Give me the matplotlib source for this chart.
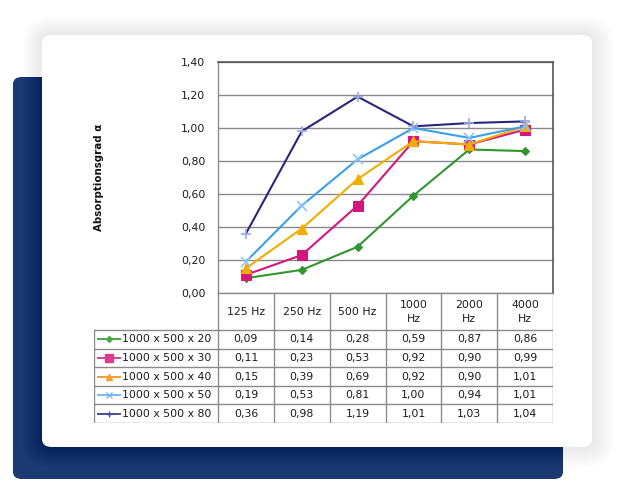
import matplotlib
matplotlib.use("Agg")
import matplotlib.pyplot as plt
from matplotlib.patches import FancyBboxPatch
from matplotlib.lines import Line2D

# ---------------- data ----------------
categories = ["125 Hz", "250 Hz", "500 Hz", "1000\nHz", "2000\nHz", "4000\nHz"]
series_names = ["1000 x 500 x 20", "1000 x 500 x 30", "1000 x 500 x 40",
                "1000 x 500 x 50", "1000 x 500 x 80"]
s20 = [0.09, 0.14, 0.28, 0.59, 0.87, 0.86]
s30 = [0.11, 0.23, 0.53, 0.92, 0.90, 0.99]
s40 = [0.15, 0.39, 0.69, 0.92, 0.90, 1.01]
s50 = [0.19, 0.53, 0.81, 1.00, 0.94, 1.01]
s80 = [0.36, 0.98, 1.19, 1.01, 1.03, 1.04]
series_values = [s20, s30, s40, s50, s80]
y_ticks = [0.0, 0.2, 0.4, 0.6, 0.8, 1.0, 1.2, 1.4]
y_label = "Absorptionsgrad α"

# ---------------- styles ----------------
line_colors = ["#2f9630", "#d4177c", "#f2ad00", "#3a9fe8", "#28267c"]
legend_colors = ["#45a845", "#dc3d8e", "#f0a030", "#7ab8f0", "#4a4a9a"]
marker_styles = ["D", "s", "^", "x", "+"]
marker_sizes = [4, 7, 6.5, 6.5, 6.5]
marker_faces = ["#2f9630", "#d4177c", "#f2ad00", "#8cc6f5", "#9aa8e6"]
FS = 7.8
TXT = "#1a1a1a"

W, H = 634, 496
fig = plt.figure(figsize=(W / 100, H / 100), dpi=100)
fig.patch.set_facecolor("white")

def fx(x):
    return x / W

def fy(y):
    return 1 - y / H

def rounded(x0, y0, x1, y1, r, **kw):
    p = FancyBboxPatch((fx(x0), fy(y1)), fx(x1) - fx(x0), fy(y0) - fy(y1),
                       boxstyle=f"round,pad=0,rounding_size={r / W}",
                       transform=fig.transFigure, **kw)
    fig.add_artist(p)
    return p

# dark background block
rounded(13, 77, 563, 479, 9, facecolor="#1b3a72", edgecolor="none", zorder=0)
# soft shadow around white card
for g in range(22, 0, -1):
    rounded(42 - g * 0.9, 35 - g * 0.9, 592 + g, 447 + g, 10 + g,
            facecolor="black", edgecolor="none", alpha=0.0045, zorder=1)
# white card
rounded(42, 35, 592, 447, 10, facecolor="white", edgecolor="none", zorder=2)

# ---------------- plot axes ----------------
px0, px1, py0, py1 = 218, 553, 62, 293
ax = fig.add_axes([fx(px0), fy(py1), fx(px1) - fx(px0), fy(py0) - fy(py1)])
ax.set_zorder(5)
ax.set_facecolor("white")
xs = list(range(len(categories)))
for vals, c, m, ms, mf in zip(series_values, line_colors, marker_styles,
                              marker_sizes, marker_faces):
    ax.plot(xs, vals, color=c, lw=1.5, marker=m, ms=ms,
            markerfacecolor=mf, markeredgecolor=mf if m in ("x", "+") else c,
            markeredgewidth=1.2 if m in ("x", "+") else 0.8, zorder=3)
ax.set_xlim(-0.5, len(categories) - 0.5)
ax.set_ylim(y_ticks[0], y_ticks[-1])
ax.set_yticks(y_ticks)
ax.set_yticklabels([f"{t:.2f}".replace(".", ",") for t in y_ticks],
                   fontsize=FS, color=TXT)
ax.set_xticks([])
ax.tick_params(axis="y", length=0, pad=9)
ax.grid(axis="y", color="#8a8a8a", lw=1.0)
ax.set_axisbelow(True)
for side in ["left", "bottom"]:
    ax.spines[side].set_color("#8a8a8a")
    ax.spines[side].set_linewidth(1.0)
for side in ["top", "right"]:
    ax.spines[side].set_color("#555555")
    ax.spines[side].set_linewidth(1.2)
ax.set_ylabel(y_label, fontsize=7.4, fontweight="bold", color="#111111")
ax.yaxis.set_label_coords((104 - px0) / (px1 - px0), 0.5)

# ---------------- data table ----------------
tx0, ty1 = 94, 423
tax = fig.add_axes([fx(tx0), fy(ty1), fx(px1) - fx(tx0), fy(py1) - fy(ty1)])
tax.set_zorder(4)
colw = (px1 - px0) / len(categories)
leg_w = (px0 - tx0) / colw
xl = -0.5 - leg_w
xr = len(categories) - 0.5
nrows = len(series_names)
hdr_h = 2.0
tax.set_xlim(xl, xr)
tax.set_ylim(0, nrows + hdr_h)
tax.axis("off")
gc = "#8a8a8a"
# vertical lines
for k in range(len(categories) + 1):
    tax.plot([-0.5 + k, -0.5 + k], [0, nrows + hdr_h], color=gc, lw=1.0,
             solid_capstyle="butt")
tax.plot([xl, xl], [0, nrows], color=gc, lw=1.0)
# horizontal lines
for r in range(nrows + 1):
    tax.plot([xl, xr], [r, r], color=gc, lw=1.0)
# header
for i, cat in enumerate(categories):
    tax.text(i, nrows + hdr_h / 2, cat, ha="center", va="center",
             fontsize=FS, color=TXT, linespacing=1.5)
# rows
for r, (name, vals, c, m, mf) in enumerate(zip(series_names, series_values,
                                               legend_colors, marker_styles,
                                               marker_faces)):
    yc = nrows - r - 0.5
    lx0 = xl + 4 / colw
    lx1 = xl + 26 / colw
    tax.add_line(Line2D([lx0, lx1], [yc, yc], color=c, lw=1.4))
    tax.plot([(lx0 + lx1) / 2], [yc], marker=m, color=c,
             ms=marker_sizes[r] * 0.75, markerfacecolor=c if m not in ("x", "+") else mf,
             markeredgecolor=c, markeredgewidth=1.0)
    tax.text(xl + 28 / colw, yc, name, ha="left", va="center",
             fontsize=FS, color=TXT)
    for i, v in enumerate(vals):
        tax.text(i, yc, f"{v:.2f}".replace(".", ","), ha="center",
                 va="center", fontsize=FS, color=TXT)

fig.savefig("out.png", dpi=100)
